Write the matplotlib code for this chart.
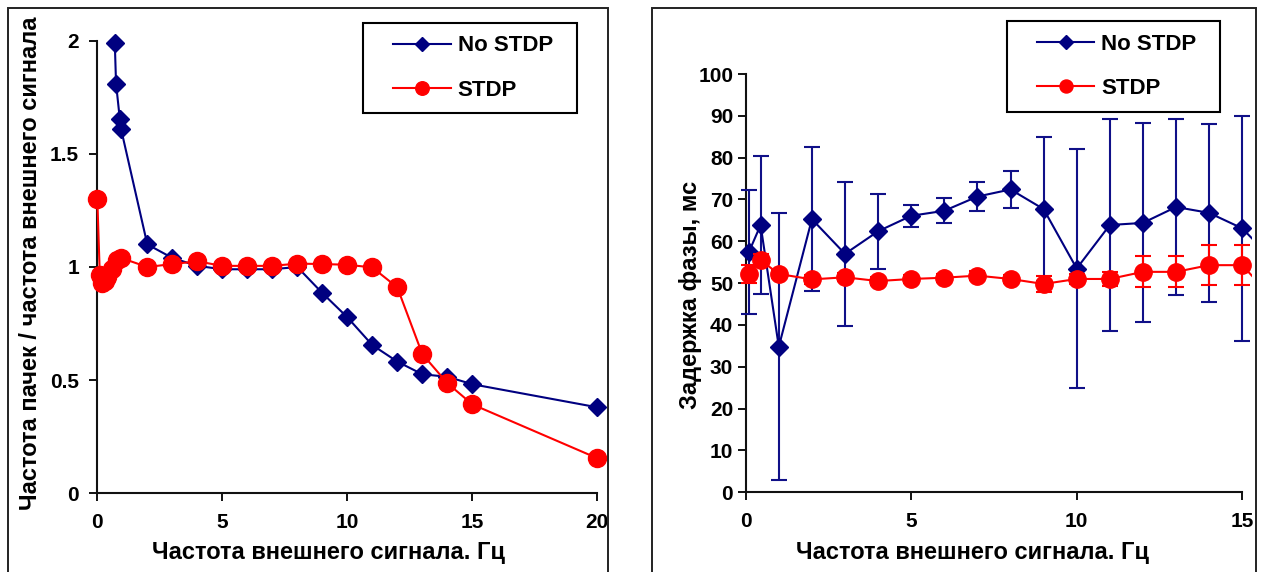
import matplotlib
matplotlib.use('Agg')
import matplotlib.pyplot as plt
from matplotlib.patches import Rectangle
from matplotlib.transforms import Bbox, TransformedBbox

plt.rcParams['font.family'] = ['Liberation Sans', 'DejaVu Sans']
plt.rcParams['font.weight'] = 'bold'

# ---------------- data: left panel (ratio of burst freq / signal freq) -------------
ratio_x_nostdp = [0.7, 0.75, 0.9, 0.95, 2, 3, 4, 5, 6, 7, 8, 9, 10, 11, 12, 13, 14, 15, 20]
ratio_nostdp = [1.99, 1.81, 1.655, 1.61, 1.10, 1.04, 1.005, 0.99, 0.99, 0.99, 1.00,
                0.885, 0.778, 0.655, 0.582, 0.526, 0.515, 0.482, 0.38]

ratio_x_stdp = [0, 0.1, 0.2, 0.3, 0.4, 0.6, 0.8, 0.95, 2, 3, 4, 5, 6, 7, 8, 9, 10, 11,
                12, 13, 14, 15, 20]
ratio_stdp = [1.30, 0.965, 0.93, 0.94, 0.955, 0.99, 1.03, 1.04, 1.00, 1.013, 1.025,
              1.005, 1.005, 1.005, 1.015, 1.013, 1.01, 0.998, 0.91, 0.615, 0.487,
              0.393, 0.155]

# ---------------- data: right panel (phase delay, ms) ----------------
delay_x = [0.1, 0.45, 1, 2, 3, 4, 5, 6, 7, 8, 9, 10, 11, 12, 13, 14, 15, 20]
delay_nostdp = [57.5, 63.9, 34.8, 65.3, 57.0, 62.4, 66.1, 67.3, 70.7, 72.4, 67.7,
                53.5, 63.9, 64.4, 68.2, 66.8, 63.1, 22.6]
delay_nostdp_err = [14.8, 16.5, 31.9, 17.2, 17.2, 8.9, 2.6, 3.0, 3.5, 4.4, 17.3,
                    28.6, 25.3, 23.8, 21.0, 21.2, 26.9, 0]
delay_stdp = [52.2, 55.5, 52.2, 50.9, 51.4, 50.5, 51.0, 51.3, 51.8, 51.0, 49.8,
              51.0, 51.0, 52.7, 52.7, 54.3, 54.3, 11.3]
delay_stdp_err = [2.2, 1.5, 1.0, 1.0, 1.0, 1.0, 1.0, 1.0, 1.0, 1.0, 2.0, 1.2, 1.6,
                  3.7, 3.7, 4.8, 4.8, 0]

left_xticks = [0, 5, 10, 15, 20]
left_yticks = [0, 0.5, 1, 1.5, 2]
left_yticklabels = ['0', '0.5', '1', '1.5', '2']
right_xticks = [0, 5, 10, 15]
right_yticks = list(range(0, 101, 10))

xlabel = 'Частота внешнего сигнала. Гц'
ylabel_left = 'Частота пачек / частота внешнего сигнала'
ylabel_right = 'Задержка фазы, мс'
labels = ['No STDP', 'STDP']

BLUE = '#000080'
RED = '#FF0000'
W, H = 1261, 572

fig = plt.figure(figsize=(W / 100, H / 100), dpi=100)


def px_axes(x0, x1, y_bottom, y_top):
    return [x0 / W, (H - y_bottom) / H, (x1 - x0) / W, (y_bottom - y_top) / H]


def px_box(x0, y0, x1, y1):
    return (x0 / W, 1 - y1 / H, (x1 - x0) / W, (y1 - y0) / H)


# panel frames
fig.patches.append(Rectangle((8 / W, -0.05), (608 - 8) / W, (H - 8) / H + 0.05,
                             transform=fig.transFigure, fill=False,
                             edgecolor='#222222', lw=1.4))
fig.patches.append(Rectangle((652 / W, -0.05), (1256 - 652) / W, (H - 8) / H + 0.05,
                             transform=fig.transFigure, fill=False,
                             edgecolor='#222222', lw=1.4))

axL = fig.add_axes(px_axes(97.3, 597.3, 493.3, 40.7))
axR = fig.add_axes(px_axes(745.7, 1242.2, 492.3, 74.0))

for ax in (axL, axR):
    ax.spines['top'].set_visible(False)
    ax.spines['right'].set_visible(False)
    for s in ('left', 'bottom'):
        ax.spines[s].set_linewidth(1.5)
        ax.spines[s].set_color('#111111')
    ax.tick_params(direction='out', length=6, width=1.4, labelsize=15, pad=6,
                   color='#111111')

# ---- left panel
lL1, = axL.plot(ratio_x_nostdp, ratio_nostdp, color=BLUE, lw=1.5, marker='D', ms=9.5,
                mfc=BLUE, mec=BLUE, clip_on=False, zorder=3)
lL2, = axL.plot(ratio_x_stdp, ratio_stdp, color=RED, lw=1.5, marker='o', ms=13,
                mfc=RED, mec=RED, clip_on=False, zorder=4)
axL.set_xlim(0, 20)
axL.set_ylim(0, 2)
axL.set_xticks(left_xticks)
axL.set_yticks(left_yticks)
axL.set_yticklabels(left_yticklabels)
axL.tick_params(axis='y', pad=7)
axL.tick_params(axis='x', pad=8)

# ---- right panel
clip = TransformedBbox(Bbox([[-0.02, -0.02], [1.02, 1.05]]), axR.transAxes)
eb1 = axR.errorbar(delay_x, delay_nostdp, yerr=delay_nostdp_err, color=BLUE,
                   ecolor='#101088', elinewidth=1.5, capsize=5.5, capthick=1.5,
                   lw=1.5, marker='D', ms=9.5, mfc=BLUE, mec=BLUE, zorder=3)
eb2 = axR.errorbar(delay_x, delay_stdp, yerr=delay_stdp_err, color=RED,
                   ecolor=RED, elinewidth=1.5, capsize=5.5, capthick=1.5,
                   lw=1.5, marker='o', ms=12.5, mfc=RED, mec=RED, zorder=4)
for eb in (eb1, eb2):
    for art in eb.get_children():
        art.set_clip_box(clip)
axR.set_xlim(0, 15)
axR.set_ylim(0, 100)
axR.set_xticks(right_xticks)
axR.set_yticks(right_yticks)
axR.tick_params(axis='y', pad=3)
axR.tick_params(axis='x', pad=8)

for ax in (axL, axR):
    for lab in ax.get_xticklabels() + ax.get_yticklabels():
        lab.set_fontweight('bold')

# ---- labels
lab_fs = 17
fig.text(328 / W, 1 - 552 / H, xlabel, ha='center', va='center', fontsize=lab_fs,
         fontweight='bold')
fig.text(973 / W, 1 - 552 / H, xlabel, ha='center', va='center', fontsize=lab_fs,
         fontweight='bold')
fig.text(31 / W, 1 - 263 / H, ylabel_left, ha='center', va='center', fontsize=lab_fs,
         fontweight='bold', rotation=90)
fig.text(690 / W, 1 - 295 / H, ylabel_right, ha='center', va='center', fontsize=lab_fs,
         fontweight='bold', rotation=90)

# ---- legends (frame drawn as a separate box inside the axes, below the legend)
leg_kw = dict(loc='center', frameon=False, prop={'size': 16, 'weight': 'bold'},
              handlelength=2.6, handletextpad=0.3, labelspacing=1.05,
              borderpad=0.0, borderaxespad=0.0, markerscale=0.75,
              bbox_transform=fig.transFigure)
boxL = px_box(363, 23, 577, 113)
boxR = px_box(1007, 21, 1220, 112)
legL = axL.legend([lL1, lL2], labels, bbox_to_anchor=(boxL[0] + 3 / W, boxL[1], boxL[2], boxL[3]), **leg_kw)
legR = axR.legend([eb1[0], eb2[0]], labels, bbox_to_anchor=(boxR[0] + 3 / W, boxR[1], boxR[2], boxR[3]), **leg_kw)
for ax, b in ((axL, boxL), (axR, boxR)):
    ax.add_patch(Rectangle((b[0], b[1]), b[2], b[3], transform=fig.transFigure,
                           fill=True, facecolor='white', edgecolor='black',
                           lw=1.5, zorder=9, clip_on=False))
for leg in (legL, legR):
    leg.set_zorder(10)

fig.savefig('out.png', dpi=100)
